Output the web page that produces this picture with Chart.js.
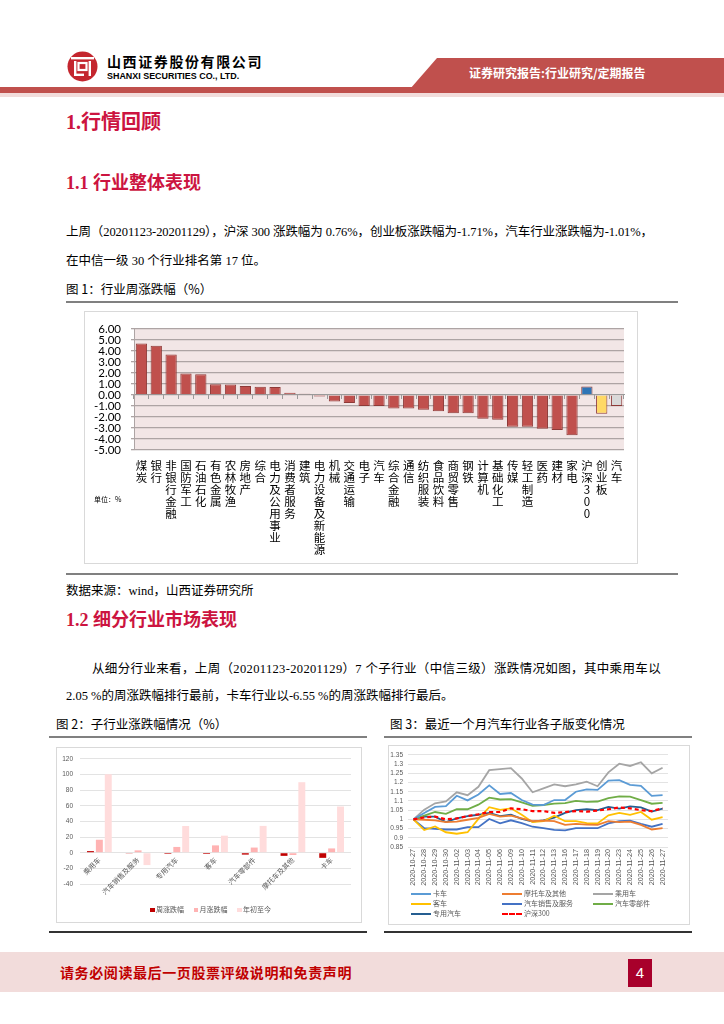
<!DOCTYPE html>
<html><head><meta charset="utf-8">
<script src="https://cdn.jsdelivr.net/npm/chart.js@4.4.1/dist/chart.umd.min.js"></script>
<style>
html,body{margin:0;padding:0;background:#fff;}
body{width:724px;height:1024px;position:relative;overflow:hidden;font-family:"Liberation Serif","Noto Sans CJK SC",serif;color:#000;}
.abs{position:absolute;white-space:nowrap;line-height:1;}
.h{color:#CC1440;font-weight:bold;}
.p{font-size:12.5px;}
.cap{font-family:"Noto Sans CJK SC",sans-serif;font-size:12.5px;}
.rule{position:absolute;height:2px;background:#808080;}
.box{position:absolute;border:1px solid #D9D9D9;box-sizing:border-box;background:#fff;}
canvas{position:absolute;left:0;top:0;}
.lg{position:absolute;font-family:"Noto Sans CJK SC",sans-serif;font-size:7px;color:#595959;line-height:1;white-space:nowrap;}
.lg i{display:inline-block;vertical-align:middle;}
</style></head>
<body>
<!-- header -->
<svg class="abs" style="left:67px;top:51px" width="31" height="31" viewBox="0 0 31 31">
  <circle cx="15.5" cy="15.5" r="15" fill="#C4262E"/>
  <rect x="4" y="6" width="23" height="2.4" fill="#fff"/>
  <rect x="7" y="10" width="2.4" height="15" fill="#fff"/>
  <rect x="21.6" y="10" width="2.4" height="15" fill="#fff"/>
  <rect x="11.5" y="12" width="8" height="7" fill="none" stroke="#fff" stroke-width="2.2"/>
  <rect x="9" y="22.6" width="8" height="2.4" fill="#fff"/>
</svg>
<div class="abs" style="left:107px;top:54px;font-family:'Noto Sans CJK SC';font-weight:bold;font-size:14px;letter-spacing:1.6px;">山西证券股份有限公司</div>
<div class="abs" style="left:107px;top:71px;font-family:'Liberation Sans';font-weight:bold;font-size:9.6px;transform:scaleX(0.93);transform-origin:left;">SHANXI SECURITIES CO., LTD.</div>
<div class="abs" style="left:0;top:58px;width:724px;height:31px;background:#C0504D;clip-path:polygon(437px 0,724px 0,724px 31px,410px 31px);"></div>
<div class="abs" style="left:0;top:87px;width:724px;height:6px;background:#C0504D;"></div>
<div class="abs" style="left:0;top:93px;width:724px;height:4px;background:#F2DCDB;"></div>
<div class="abs" style="left:469px;top:67px;font-family:'Noto Sans CJK SC';font-weight:bold;font-size:12px;color:#fff;">证券研究报告:行业研究/定期报告</div>

<div class="abs h" style="left:66px;top:112px;font-size:20px;">1.行情回顾</div>
<div class="abs h" style="left:66px;top:174px;font-size:18px;">1.1 行业整体表现</div>
<div class="abs p fit" data-w="587" style="left:66px;top:226px;">上周（20201123-20201129），沪深 300 涨跌幅为 0.76%，创业板涨跌幅为-1.71%，汽车行业涨跌幅为-1.01%，</div>
<div class="abs p" style="left:66px;top:255px;">在中信一级 30 个行业排名第 17 位。</div>
<div class="abs cap" style="left:66px;top:283px;">图 1：行业周涨跌幅（%）</div>
<div class="rule" style="left:66px;top:301px;width:612px;"></div>
<div class="box" style="left:84px;top:311px;width:554px;height:253px;"><canvas id="c1" width="552" height="251"></canvas></div>
<div class="abs" style="left:94px;top:496px;font-family:'Noto Sans CJK SC';font-size:7px;">单位：%</div>
<div class="rule" style="left:66px;top:573px;width:612px;"></div>
<div class="abs p" style="left:66px;top:585px;">数据来源：wind，山西证券研究所</div>
<div class="abs h" style="left:66px;top:611px;font-size:18px;">1.2 细分行业市场表现</div>
<div class="abs p fit" data-w="569" style="left:92px;top:663px;">从细分行业来看，上周（20201123-20201129）7 个子行业（中信三级）涨跌情况如图，其中乘用车以</div>
<div class="abs p" style="left:66px;top:690px;">2.05 %的周涨跌幅排行最前，卡车行业以-6.55 %的周涨跌幅排行最后。</div>
<div class="abs cap" style="left:56px;top:718px;">图 2：子行业涨跌幅情况（%）</div>
<div class="abs cap" style="left:390px;top:718px;">图 3：最近一个月汽车行业各子版变化情况</div>
<div class="rule" style="left:49px;top:736px;width:318px;"></div>
<div class="rule" style="left:384px;top:736px;width:308px;"></div>
<div class="box" style="left:56px;top:747px;width:306px;height:176px;"><canvas id="c2" width="304" height="174"></canvas></div>
<div class="box" style="left:388px;top:745px;width:302px;height:180px;"><canvas id="c3" width="300" height="178"></canvas></div>
<div class="rule" style="left:49px;top:931px;width:318px;background:#333;"></div>
<div class="rule" style="left:384px;top:931px;width:308px;background:#333;"></div>
<div id="lg2"></div>
<div id="lg3"></div>

<!-- footer -->
<div class="abs" style="left:0;top:952px;width:724px;height:40px;background:#F2DCDB;"></div>
<div class="abs" style="left:60px;top:965px;font-family:'Noto Sans CJK SC';font-weight:bold;font-size:14px;letter-spacing:0.6px;color:#C00000;">请务必阅读最后一页股票评级说明和免责声明</div>
<div class="abs" style="left:628px;top:959px;width:24px;height:28px;background:#A8002B;color:#fff;font-family:'Liberation Sans';font-size:15px;line-height:28px;text-align:center;">4</div>

<script>
// fit paragraph lines to their measured width in the reference
document.querySelectorAll('.fit').forEach(el => {
  const target = +el.dataset.w;
  const natural = el.getBoundingClientRect().width;
  const n = Array.from(el.textContent).length;
  el.style.letterSpacing = ((target - natural) / n) + 'px';
});

// ---------- Figure 1 data ----------
const fig1Categories = ['煤炭','银行','非银行金融','国防军工','石油石化','有色金属','农林牧渔','房地产','综合','电力及公用事业','消费者服务','建筑','电力设备及新能源','机械','交通运输','电子','汽车','综合金融','通信','纺织服装','食品饮料','商贸零售','钢铁','计算机','基础化工','传媒','轻工制造','医药','建材','家电','沪深300','创业板','汽车'];
const fig1Values = [4.68,4.47,3.68,1.94,1.88,0.97,0.94,0.82,0.74,0.72,0.20,0.12,-0.15,-0.59,-0.74,-1.00,-1.01,-1.23,-1.23,-1.35,-1.49,-1.67,-1.67,-2.16,-2.25,-2.89,-2.89,-3.07,-3.19,-3.65,0.76,-1.71,-1.01];
const fig1YTicks = [-5,-4,-3,-2,-1,0,1,2,3,4,5,6];

// ---------- Figure 2 data ----------
const fig2Categories = ['乘用车','汽车销售及服务','专用汽车','客车','汽车零部件','摩托车及其他','卡车'];
const fig2Series = ['周涨跌幅','月涨跌幅','年初至今'];
const fig2Weekly = [2.05,-0.9,-1.4,-1.5,-2.4,-4.0,-6.55];
const fig2Monthly = [16.6,3.0,7.4,9.4,6.6,-2.9,5.5];
const fig2Ytd = [100.3,-15.8,34.2,21.8,34.3,90.2,59.1];
const fig2YTicks = [-40,-20,0,20,40,60,80,100,120];

// ---------- Figure 3 data ----------
const fig3Dates = ['2020-10-27','2020-10-28','2020-10-29','2020-10-30','2020-11-02','2020-11-03','2020-11-04','2020-11-05','2020-11-06','2020-11-09','2020-11-10','2020-11-11','2020-11-12','2020-11-13','2020-11-16','2020-11-17','2020-11-18','2020-11-19','2020-11-20','2020-11-23','2020-11-24','2020-11-25','2020-11-26','2020-11-27'];
const fig3Names = ['卡车','摩托车及其他','乘用车','客车','汽车销售及服务','汽车零部件','专用汽车','沪深300'];
const truck      = [1.00,1.035,1.068,1.072,1.128,1.103,1.135,1.185,1.138,1.143,1.105,1.080,1.078,1.105,1.105,1.150,1.163,1.160,1.210,1.213,1.187,1.182,1.128,1.132];
const motorcycle = [1.00,0.998,0.995,0.985,0.988,0.998,1.008,1.030,1.015,1.020,1.005,0.990,0.993,0.990,0.970,0.975,0.972,0.970,0.990,0.985,0.988,0.970,0.945,0.952];
const passenger  = [1.00,1.053,1.087,1.097,1.147,1.131,1.177,1.267,1.273,1.278,1.222,1.147,1.168,1.190,1.180,1.190,1.205,1.180,1.255,1.302,1.290,1.310,1.250,1.280];
const bus        = [1.00,0.942,0.962,0.930,0.922,0.930,1.003,1.066,1.052,1.060,1.025,0.985,0.990,1.020,0.990,0.990,0.980,0.978,1.022,1.035,1.025,1.040,0.998,1.012];
const autoSales  = [1.00,0.952,0.948,0.945,0.945,0.958,0.958,1.002,0.978,0.995,0.980,0.960,0.953,0.943,0.940,0.953,0.953,0.952,0.978,0.990,0.993,0.975,0.960,0.975];
const autoParts  = [1.00,1.020,1.040,1.030,1.055,1.055,1.080,1.118,1.108,1.110,1.092,1.073,1.078,1.085,1.088,1.100,1.095,1.097,1.115,1.125,1.123,1.105,1.085,1.090];
const specialVeh = [1.00,1.015,1.015,0.985,1.005,1.018,1.025,1.035,1.018,1.025,1.003,0.988,0.995,1.010,1.035,1.050,1.055,1.050,1.068,1.058,1.070,1.065,1.042,1.058];
const hs300      = [1.00,1.010,1.015,1.000,1.005,1.018,1.028,1.040,1.040,1.060,1.055,1.045,1.045,1.035,1.040,1.045,1.042,1.048,1.055,1.065,1.060,1.050,1.045,1.060];
const fig3YTicks = [0.85,0.9,0.95,1,1.05,1.1,1.15,1.2,1.25,1.3,1.35];

// ---------- styles ----------
const RED = '#C0504D', RED_EDGE = '#8E3A38';
const fig1SpecialColors = ['#2E75B6','#FFD966','#D9D9D9'];
const fig2Colors = ['#C00000','#FFB3B3','#FFDCDC'];
const fig3Colors = ['#5B9BD5','#ED7D31','#A5A5A5','#FFC000','#4472C4','#70AD47','#255E91','#FF0000'];
const GRAY_TXT = '#595959';

const plotBg = {
  id:'plotBg',
  beforeDraw(chart, args, opts){
    if(!opts.color) return;
    const a = chart.chartArea, ctx = chart.ctx;
    ctx.save(); ctx.fillStyle = opts.color; ctx.fillRect(a.left, a.top, a.right-a.left, a.bottom-a.top); ctx.restore();
  }
};

// ---------- Figure 1 ----------
const nIndustry = 30;
new Chart(document.getElementById('c1'), {
  type:'bar',
  data:{
    labels: fig1Categories.map(s => Array.from(s)),
    datasets:[{
      data: fig1Values,
      xAxisID:'x',
      backgroundColor: fig1Values.map((v,i) => i < nIndustry ? RED : fig1SpecialColors[i-nIndustry]),
      borderColor: RED_EDGE, borderWidth:1,
      barPercentage:0.76, categoryPercentage:1
    }]
  },
  options:{
    responsive:false, animation:false, devicePixelRatio:1,
    layout:{padding:{top:12,right:13,left:0,bottom:0}},
    plugins:{legend:{display:false}, tooltip:{enabled:false}, plotBg:{color:'#F2E6E6'}},
    scales:{
      x:{ type:'category', offset:true, grid:{display:false, drawTicks:false}, border:{display:false},
          ticks:{autoSkip:false, maxRotation:0, minRotation:0, padding:10, color:'#000',
                 font:{family:'"Noto Sans CJK SC"', size:11.5, lineHeight:1.04}},
          afterFit(s){ s.height = 113; } },
      x0:{ type:'category', position:{y:0}, offset:true,
           grid:{offset:true, drawOnChartArea:false, drawTicks:true, tickLength:4, color:'#9A9A9A'},
           border:{display:true, color:'#9A9A9A', width:1}, ticks:{display:false} },
      y:{ min:fig1YTicks[0], max:fig1YTicks[fig1YTicks.length-1],
          ticks:{stepSize:1, autoSkip:false, callback:v => v.toFixed(2), padding:10, color:'#000', font:{family:'Lato', size:11.5}},
          grid:{color:'#ADA4A4', lineWidth:1.3, tickLength:3, drawTicks:true},
          border:{display:true, color:'#ADA4A4'},
          afterFit(s){ s.width = 49; } }
    }
  },
  plugins:[plotBg]
});

// ---------- Figure 2 ----------
const fig2Data = [fig2Weekly, fig2Monthly, fig2Ytd];
new Chart(document.getElementById('c2'), {
  type:'bar',
  data:{
    labels: fig2Categories,
    datasets: fig2Series.map((name,i) => ({label:name, data:fig2Data[i], backgroundColor:fig2Colors[i], barPercentage:0.78, categoryPercentage:0.69}))
  },
  options:{
    responsive:false, animation:false, devicePixelRatio:1,
    layout:{padding:{top:9,right:10,left:0,bottom:38}},
    plugins:{legend:{display:false}, tooltip:{enabled:false}},
    scales:{
      x:{ type:'category', position:{y:0}, grid:{display:false, drawTicks:false}, border:{display:false},
          ticks:{autoSkip:false, maxRotation:45, minRotation:45, padding:3, color:GRAY_TXT,
                 font:{family:'"Noto Sans CJK SC"', size:7}} },
      y:{ min:fig2YTicks[0], max:fig2YTicks[fig2YTicks.length-1],
          ticks:{stepSize:20, autoSkip:false, padding:7, color:GRAY_TXT, font:{family:'"Liberation Sans"', size:6.5}},
          grid:{color:'#E3E3E3', lineWidth:1, drawTicks:false},
          border:{display:false},
          afterFit(s){ s.width = 23; } }
    }
  }
});
document.getElementById('lg2').innerHTML = fig2Series.map((n,i) =>
  `<div class="lg" style="left:${150 + i*43.5}px;top:906px;"><i style="width:4.5px;height:4.5px;background:${fig2Colors[i]};margin-right:1.5px;"></i>${n}</div>`).join('');

// ---------- Figure 3 ----------
const fig3Data = [truck, motorcycle, passenger, bus, autoSales, autoParts, specialVeh, hs300];
new Chart(document.getElementById('c3'), {
  type:'line',
  data:{
    labels: fig3Dates,
    datasets: fig3Names.map((name,i) => ({
      label:name, data:fig3Data[i], borderColor:fig3Colors[i], backgroundColor:fig3Colors[i],
      borderWidth: i === 7 ? 2.2 : 1.8, borderDash: i === 7 ? [4,3] : [], pointRadius:0, tension:0,
      order: i === 7 ? -1 : i
    }))
  },
  options:{
    responsive:false, animation:false, devicePixelRatio:1,
    layout:{padding:{top:3,right:21,left:0,bottom:0}},
    plugins:{legend:{display:false}, tooltip:{enabled:false}},
    scales:{
      x:{ type:'category', offset:true, grid:{display:false, drawTicks:false}, border:{display:false},
          ticks:{autoSkip:false, maxRotation:90, minRotation:90, padding:2, color:GRAY_TXT,
                 font:{family:'"Liberation Sans"', size:7.2}},
          afterFit(s){ s.height = 77; } },
      y:{ min:fig3YTicks[0], max:fig3YTicks[fig3YTicks.length-1],
          ticks:{stepSize:0.05, autoSkip:false, padding:5, color:GRAY_TXT, font:{family:'"Liberation Sans"', size:6.5},
                 callback:v => String(parseFloat(v.toFixed(2)))},
          grid:{color:'#E3E3E3', lineWidth:1, drawTicks:false},
          border:{display:false},
          afterFit(s){ s.width = 19; } }
    }
  }
});
const lgCols = [411, 502, 593], lgRows = [890, 900, 910];
document.getElementById('lg3').innerHTML = fig3Names.map((n,i) => {
  const c = i % 3, r = Math.floor(i / 3);
  const line = i === 7
    ? `border-top:2.2px dashed ${fig3Colors[i]};`
    : `border-top:2px solid ${fig3Colors[i]};`;
  return `<div class="lg" style="left:${lgCols[c]}px;top:${lgRows[r]}px;"><i style="width:20px;height:0;${line}margin-right:2px;"></i>${n}</div>`;
}).join('');
</script>
</body></html>
